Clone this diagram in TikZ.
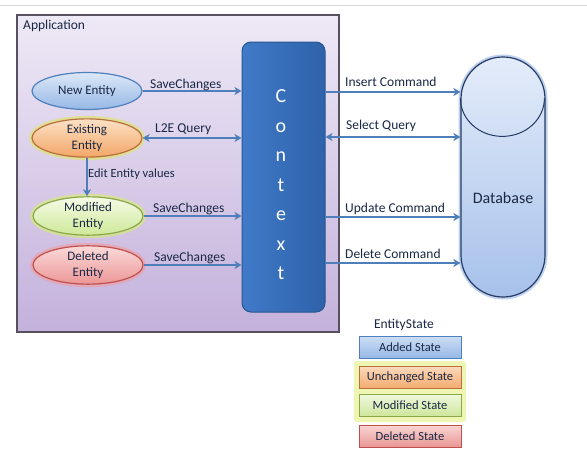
\documentclass[tikz,border=0pt]{standalone}
\usepackage{fontspec}
\setmainfont{Carlito}
\usetikzlibrary{shapes.geometric,arrows.meta,shadings}
\definecolor{arrowc}{HTML}{4F7FBA}
\definecolor{labc}{HTML}{1A2845}
\definecolor{panelb}{HTML}{57505F}
\definecolor{glowy}{HTML}{ECF4A0}
\tikzset{
  conn/.style={draw=arrowc, line width=2pt, -{Stealth[length=7pt,width=8pt,inset=2pt]}},
  conn2/.style={draw=arrowc, line width=2pt, {Stealth[length=7pt,width=8pt,inset=2pt]}-{Stealth[length=7pt,width=8pt,inset=2pt]}},
  lab/.style={anchor=base west, inner sep=0pt, text=labc, font=\fontsize{13.5}{15}\selectfont},
  ent/.style={ellipse, minimum width=110pt, minimum height=35pt, inner sep=0pt, align=center, text=labc, line width=1.2pt,
    font=\fontsize{13}{16}\selectfont},
  legbox/.style={rectangle, minimum width=102pt, minimum height=22pt, inner sep=0pt, line width=1pt, text=labc,
    font=\fontsize{12.5}{15}\selectfont},
}
\begin{document}
\begin{tikzpicture}[x=1pt,y=-1pt]
\useasboundingbox (0,0) rectangle (587,458);
\fill[white] (0,0) rectangle (587,458);
\draw[line width=1pt, draw=black!15] (0,5) -- (587,5);
% application panel
\node[draw=panelb, line width=1.6pt, top color={rgb,255:red,238;green,233;blue,246}, bottom color={rgb,255:red,196;green,177;blue,220},
  minimum width=322pt, minimum height=317pt, inner sep=0pt, anchor=north west] (app) at (16,14) {};
\node[anchor=base west, inner sep=0pt, text=labc, font=\fontsize{13.5}{15}\selectfont] (applab) at (23,29) {Application};
% context
\node[draw={rgb,255:red,40;green,86;blue,146}, line width=1pt, rounded corners=9pt,
  left color={rgb,255:red,64;green,122;blue,200}, right color={rgb,255:red,46;green,98;blue,170},
  minimum width=83pt, minimum height=270pt, inner sep=0pt] (ctx) at (283.5,177) {};
\node[align=center, text=white, font=\fontsize{20}{29.5}\selectfont, inner sep=0pt] (ctxlab) at (281,185) {C\\o\\n\\t\\e\\x\\t};
% entities
\node[ent, draw={rgb,255:red,79;green,129;blue,189}, top color={rgb,255:red,220;green,232;blue,248}, bottom color={rgb,255:red,150;green,184;blue,230},
  minimum height=37pt] (new) at (87,91) {New Entity};
\node[ent, draw={rgb,255:red,184;green,112;blue,58}, top color={rgb,255:red,253;green,226;blue,198}, bottom color={rgb,255:red,243;green,166;blue,104},
  minimum height=34pt, preaction={draw={rgb,255:red,226;green,226;blue,120}, line width=6pt, opacity=.7}] (ex) at (87,138) {Existing\\Entity};
\node[ent, draw={rgb,255:red,138;green,168;blue,74}, top color={rgb,255:red,245;green,251;blue,230}, bottom color={rgb,255:red,206;green,232;blue,152},
  minimum height=33pt, preaction={draw={rgb,255:red,216;green,232;blue,130}, line width=6pt, opacity=.7}] (mod) at (88,216) {Modified\\Entity};
\node[ent, draw={rgb,255:red,192;green,80;blue,77}, top color={rgb,255:red,251;green,218;blue,218}, bottom color={rgb,255:red,236;green,150;blue,150},
  minimum height=35pt, preaction={draw={rgb,255:red,236;green,160;blue,170}, line width=6pt, opacity=.7}] (del) at (88,265) {Deleted\\Entity};
% database
\node[draw={rgb,255:red,38;green,58;blue,100}, line width=1.2pt, rounded corners=42pt,
  top color={rgb,255:red,228;green,236;blue,250}, bottom color={rgb,255:red,166;green,193;blue,234},
  preaction={draw={rgb,255:red,190;green,210;blue,240}, line width=5pt, rounded corners=42pt},
  minimum width=84pt, minimum height=240pt, inner sep=0pt] (db) at (503,177) {};
\draw[draw={rgb,255:red,38;green,58;blue,100}, line width=1pt] ([yshift=-42pt]db.north west) arc[start angle=180, end angle=360, x radius=42pt, y radius=38pt];
\node[text=labc, font=\fontsize{16}{18}\selectfont, inner sep=0pt] (dblab) at (503,198) {Database};
% left connectors
\draw[conn] (new.east) -- (ctx.west |- new.east);
\draw[conn2] (ex.east) -- (ctx.west |- ex.east);
\draw[conn] (ex.south) -- (ex.south |- mod.north);
\draw[conn] (mod.east) -- (ctx.west |- mod.east);
\draw[conn] (del.east) -- (ctx.west |- del.east);
\node[lab] (l1) at (150,88) {SaveChanges};
\node[lab] (l2) at (155,132) {L2E Query};
\node[lab, font=\fontsize{12.5}{14}\selectfont] (l3) at (88,177) {Edit Entity values};
\node[lab] (l4) at (153,212) {SaveChanges};
\node[lab] (l5) at (154,261) {SaveChanges};
% right connectors
\draw[conn] (ctx.east |- 0,92) coordinate (r1) -- (db.west |- r1);
\draw[conn2] (ctx.east |- 0,137) coordinate (r2) -- (db.west |- r2);
\draw[conn] (ctx.east |- 0,217) coordinate (r3) -- (db.west |- r3);
\draw[conn] (ctx.east |- 0,263) coordinate (r4) -- (db.west |- r4);
\node[lab] (r1l) at (345,86) {Insert Command};
\node[lab] (r2l) at (346,129) {Select Query};
\node[lab] (r3l) at (345,212) {Update Command};
\node[lab] (r4l) at (345,258) {Delete Command};
% legend
\node[text=labc, font=\fontsize{13.5}{15}\selectfont, inner sep=0pt] (leg) at (404,325) {EntityState};
\fill[fill=glowy, opacity=.8, rounded corners=3pt] (354,361) rectangle (466,422);
\node[legbox, draw={rgb,255:red,79;green,129;blue,189}, top color={rgb,255:red,206;green,222;blue,245}, bottom color={rgb,255:red,150;green,184;blue,230}] (ladd) at (410,347) {Added State};
\node[legbox, draw={rgb,255:red,184;green,112;blue,58}, top color={rgb,255:red,252;green,218;blue,190}, bottom color={rgb,255:red,244;green,172;blue,112}] (lunc) at (410,377) {Unchanged State};
\node[legbox, draw={rgb,255:red,138;green,168;blue,74}, top color={rgb,255:red,240;green,248;blue,222}, bottom color={rgb,255:red,206;green,230;blue,156}] (lmod) at (410,405) {Modified State};
\node[legbox, draw={rgb,255:red,192;green,80;blue,77}, top color={rgb,255:red,248;green,214;blue,212}, bottom color={rgb,255:red,232;green,150;blue,148}] (ldel) at (410,436) {Deleted State};
\end{tikzpicture}
\end{document}
